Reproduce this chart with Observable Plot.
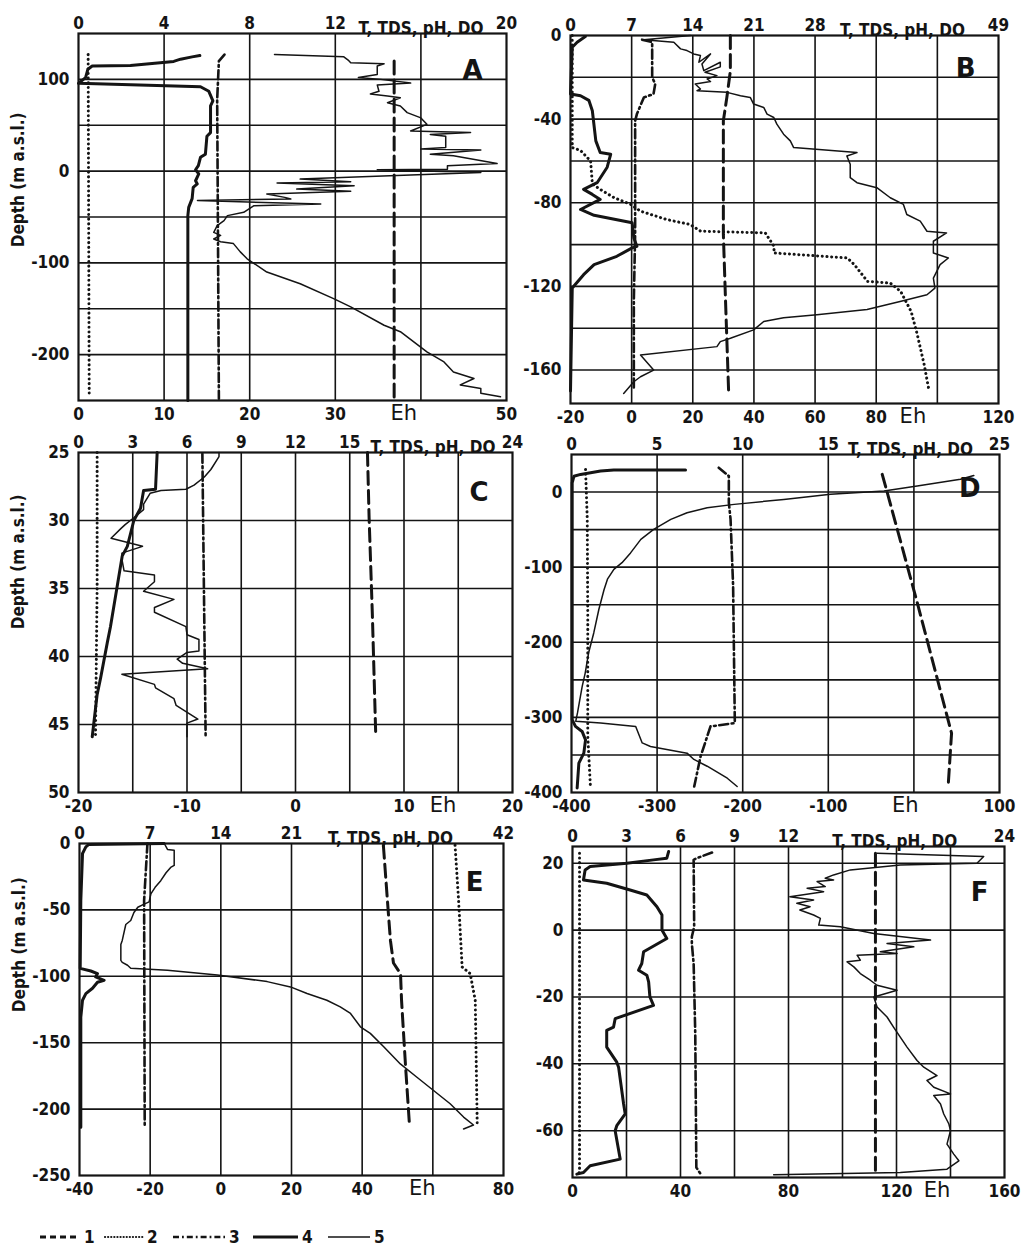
<!DOCTYPE html>
<html><head><meta charset="utf-8">
<script src="https://cdn.jsdelivr.net/npm/d3@7"></script>
<script src="https://cdn.jsdelivr.net/npm/@observablehq/plot@0.6"></script>
<style>
body{margin:0;background:#fff;}
#page{position:relative;width:1024px;height:1255px;overflow:hidden;background:#fff;}
.panel{position:absolute;}
.panel svg{position:absolute;left:0;top:0;}
#legend{position:absolute;left:0;top:1222px;}
</style></head><body><div id="page"></div>
<script>
// ---------- Panel A ----------
const A_topTicks=[0,4,8,12,20], A_topGrid=[4,8,12,16];
const A_ehTicks=[0,10,20,30,50];
const A_yTicks=[100,0,-100,-200], A_yGrid=[100,50,0,-50,-100,-150,-200];
const A_T=[[14.75,120],[14.75,-248]];
const A_TDS=[[0.45,127],[0.5,-244]];
const A_pH=[[6.82,127],[6.56,120],[6.48,78],[6.5,0],[6.56,-248]];
const A_DO=[[5.67,126],[5.31,124.5],[4.77,122],[4.45,119.6],[2.43,115],[0.64,114.5],[0.44,111],[0.33,102],[0,95.7],[5.7,92],[6.09,87],[6.28,76.5],[6.17,71],[6.17,42],[6.0,38],[5.93,18.5],[5.7,15],[5.6,6],[5.47,1.5],[5.62,-3],[5.47,-10.5],[5.55,-14],[5.36,-17.8],[5.31,-30],[5.15,-39.5],[5.11,-48.5],[5.11,-250]];
const A_Eh=[[22.9,127],[31.0,124.6],[31.5,121],[31.8,118],[35.7,117],[34.9,114.5],[34.9,105.4],[32.7,102],[35.3,100],[38.8,96],[34.9,94],[35.1,87],[34.1,84],[36.1,82],[37.6,80],[36.1,74.6],[37.6,71],[38.4,63.8],[40,58],[40.7,51],[38.8,43.8],[45.8,42],[41.1,40],[42.9,38],[42.9,25.7],[40,24],[47,23],[41.1,18.5],[43.8,16.7],[48.9,8.3],[43.1,5.8],[43.1,2],[34.9,1.4],[47,-1.4],[38.8,-4.3],[25.9,-8.7],[31.8,-11.6],[23.2,-13],[32.2,-16],[25.5,-19.6],[31.8,-22],[22.0,-25],[24.1,-28.6],[24.8,-30.4],[13.9,-32],[28.3,-35.9],[20.5,-37.7],[19.3,-44.9],[17.4,-48.5],[17,-54],[16.2,-59.4],[15.8,-66.7],[16.6,-70],[15.8,-74],[16.6,-77],[18.1,-79],[18.9,-88],[19.7,-95.6],[22,-110],[25.9,-122.8],[29.8,-139],[31.8,-148],[35.7,-168],[37.6,-175],[40.7,-197],[42.7,-208],[43.8,-219],[46.2,-226],[44.6,-233],[47,-237],[47,-242],[49.3,-246]];

// ---------- Panel B ----------
const B_topTicks=[0,7,14,21,28,49], B_topGrid=[7,14,21,28,35,42];
const B_ehTicks=[-20,0,20,40,60,80,120];
const B_yTicks=[0,-40,-80,-120,-160], B_yGrid=[-20,-40,-60,-80,-100,-120,-140,-160];
const B_T=[[18.3,0],[18.3,-17],[17.9,-29.6],[17.5,-40.8],[17.5,-95],[17.75,-127],[18.1,-170]];
const B_TDS=[[0.2,0],[0.2,-53.6],[1.15,-55],[2.3,-60],[2.5,-71],[3.4,-73.6],[5,-77.6],[6.9,-80.8],[8,-84],[11,-88],[13.7,-90.4],[14.9,-93.6],[22.3,-94.4],[23.3,-100.8],[23.3,-104],[31.7,-106.4],[32.5,-109.6],[34,-117.6],[36.6,-118.4],[37.8,-122.4],[39,-132],[39.7,-143],[40.5,-157.6],[41,-168.8]];
const B_pH=[[8.2,-2],[9.35,-3.2],[9.35,-20],[9.7,-23.2],[9.5,-28],[8.4,-29.6],[7.6,-37.6],[7.4,-40.8],[7.4,-95],[7.25,-127],[7.25,-170]];
const B_DO=[[1.7,-0.5],[0.76,-3.2],[0.2,-5.6],[0,-28],[1.15,-28.8],[2.1,-31],[2.5,-36],[2.9,-50.4],[3.4,-56],[4.6,-56.8],[4.2,-63],[3.05,-70.4],[1.5,-73.6],[2.5,-76],[3.4,-78.4],[1.15,-83.2],[2.7,-86],[7.06,-89.6],[7.25,-96.8],[7.6,-100.8],[7.06,-101.6],[5.3,-105.6],[2.7,-109.6],[1.5,-114.4],[0.2,-120.8],[0,-170]];
const B_Eh=[[19.2,0],[4,-2],[13.8,-3.2],[16,-6.4],[18.1,-7.2],[20.3,-8.8],[22.5,-9.6],[22,-12.8],[25.8,-8.8],[23,-13.6],[23.6,-16.8],[29,-12.8],[29,-15],[24,-17.6],[27.9,-19.2],[24.7,-20.8],[25.8,-22],[20.8,-23.2],[22.5,-25.6],[21.4,-26.4],[31.2,-27.2],[35.6,-28.8],[38.8,-29.6],[39.9,-32.8],[43.2,-34.4],[44.3,-37.6],[46.5,-39.2],[47.5,-42.4],[49.7,-47.2],[51.9,-50.4],[53,-53.6],[73.7,-56],[70.4,-57.6],[71.5,-61.6],[71.5,-68],[73.7,-70.4],[80.2,-72.8],[84.6,-77.6],[88.9,-80.8],[90,-85.6],[94.4,-88.8],[96.6,-93.6],[103,-94.4],[98.7,-98.4],[98.7,-104],[103.6,-106.4],[100.9,-109.6],[98.7,-116],[99.2,-120.8],[96.6,-124],[87.8,-127.2],[77,-131],[60.6,-133.6],[49.7,-135],[43.2,-136.8],[39.9,-140.8],[32.3,-144.8],[29,-146.4],[27.9,-148.8],[2.9,-152.8],[7.2,-160],[2.9,-163.2],[0.7,-165.6],[-2.6,-171.2]];

// ---------- Panel C ----------
const C_topTicks=[0,3,6,9,12,15,24], C_topGrid=[3,6,9,12,15,18,21];
const C_ehTicks=[-20,-10,0,10,20];
const C_yTicks=[25,30,35,40,45,50], C_yGrid=[30,35,40,45];
const C_T=[[15.98,25],[16.07,29.8],[16.25,36.9],[16.44,45.9]];
const C_TDS=[[1.03,25],[1.03,35],[0.94,45.9]];
const C_pH=[[6.85,25.1],[7.03,45.9]];
const C_DO=[[4.35,25],[4.26,27.7],[3.6,27.8],[3.43,29.1],[3.06,30],[2.7,31.9],[2.42,32.6],[1.77,37.8],[1.59,39],[1.22,41.6],[1.03,42.8],[0.76,45.9]];
const C_Eh=[[-7.05,25],[-7.05,25.3],[-7.8,26.25],[-8.4,26.8],[-9.35,27.4],[-10.1,27.7],[-12.4,27.8],[-13.4,28],[-14,28.8],[-14,29.2],[-14.9,29.8],[-15.7,30.3],[-16.1,30.6],[-17,31.3],[-14.1,31.9],[-16,32.4],[-16,32.85],[-15.8,33.7],[-13,34],[-13,34.5],[-14,35.2],[-11.2,35.8],[-13,36.4],[-13,36.75],[-10.1,37.8],[-10,38.4],[-8.9,38.75],[-8.9,39.6],[-10,39.7],[-10.9,40.2],[-10.4,40.5],[-8.1,40.9],[-16,41.3],[-13,42.05],[-12.9,42.3],[-11.2,43.1],[-11,43.6],[-9,44.6],[-10,44.9],[-10,45.9]];

// ---------- Panel D ----------
const D_topTicks=[0,5,10,15,25], D_topGrid=[5,10,15,20];
const D_ehTicks=[-400,-300,-200,-100,100];
const D_yTicks=[0,-100,-200,-300,-400], D_yGrid=[0,-50,-100,-150,-200,-250,-300,-350];
const D_T=[[18.15,23.5],[18.5,-5.3],[20.2,-147.6],[22.2,-321],[22.0,-392]];
const D_TDS=[[0.82,30],[0.92,-36],[0.95,-170],[0.95,-325],[1.1,-390]];
const D_pH=[[8.6,32.4],[9.19,21.3],[9.19,-14],[9.29,-36],[9.44,-125],[9.54,-307.6],[8.12,-312],[7.54,-352],[7.15,-394]];
const D_DO=[[6.66,29.3],[2.47,29.3],[1.7,28],[0.53,23.5],[0.14,21],[0.04,12.4],[0.04,-303],[0.23,-312],[0.62,-318.7],[0.82,-330],[0.72,-347.6],[0.43,-361],[0.33,-394]];
const D_Eh=[[70,22],[54.4,17],[3.8,8],[-35,1.3],[-97.4,-3],[-152,-9.8],[-210,-16.4],[-241.5,-20.9],[-265,-27.6],[-284,-36.4],[-304,-49.8],[-319,-63],[-331,-81],[-341,-94],[-350.5,-103],[-358,-116],[-362,-130],[-368,-156],[-374,-187.6],[-380,-214],[-384,-241],[-387.5,-258.7],[-391,-281],[-393,-294],[-395,-305],[-366,-307.6],[-325,-312],[-317.4,-334],[-307.7,-338.7],[-265,-347.6],[-257,-356],[-241.5,-365],[-218,-381],[-206.5,-392]];

// ---------- Panel E ----------
const E_topTicks=[0,7,14,21,42], E_topGrid=[7,14,21,28,35];
const E_ehTicks=[-40,-20,0,20,40,80];
const E_yTicks=[0,-50,-100,-150,-200,-250], E_yGrid=[-50,-100,-150,-200];
const E_T=[[30.1,-1.3],[30.5,-42.7],[30.8,-73],[31.1,-90],[31.8,-98],[31.9,-118],[32.3,-168],[32.7,-213.6]];
const E_TDS=[[37.2,-1.3],[37.55,-42.7],[37.9,-93],[38.7,-98],[39.2,-118],[39.4,-213.6]];
const E_pH=[[6.73,0],[6.4,-42.7],[6.46,-213.6]];
const E_DO=[[8.37,0],[0.9,-0.8],[0.63,-2.5],[0.3,-7.5],[0.13,-42.7],[0.07,-94],[1.12,-96],[1.78,-98],[1.6,-100.5],[2.44,-103],[1.78,-104.5],[1.29,-109],[0.63,-113],[0.3,-118],[0.13,-130.7],[0.13,-213.6]];
const E_Eh=[[-16,0],[-15.1,-4.5],[-13.2,-5],[-13.2,-16.5],[-14.2,-18],[-15.5,-22],[-17,-28],[-18.6,-33],[-19.8,-38],[-20.3,-44],[-22,-46],[-23.5,-48],[-24.6,-52],[-25.5,-58],[-26.9,-61],[-27.9,-73],[-28.3,-76],[-28.3,-88],[-27.9,-89.5],[-26.4,-91.7],[-25.5,-94],[-15.1,-95.5],[-1,-99],[13.1,-104],[19.7,-108],[24.4,-113],[30,-118],[33.8,-123],[36.7,-128],[39.5,-138],[42.3,-143],[46.1,-153],[50.8,-166],[55.5,-176],[60.2,-186],[64.9,-196],[68.7,-206],[71.5,-212],[68.7,-215]];

// ---------- Panel F ----------
const F_topTicks=[0,3,6,9,12,24], F_topGrid=[3,6,9,12,15,18,21];
const F_ehTicks=[0,40,80,120,160];
const F_yTicks=[20,0,-20,-40,-60], F_yGrid=[20,0,-20,-40,-60];
const F_T=[[16.83,23],[16.83,-73]];
const F_TDS=[[0.39,23],[0.39,-72],[0.33,-73.5]];
const F_pH=[[7.75,23.2],[6.9,21.5],[6.73,21],[6.76,1],[6.63,-2],[6.63,-4],[6.73,-10],[6.82,-31],[6.88,-71],[7.1,-72.8]];
const F_DO=[[5.34,23.5],[5.24,21.5],[4.5,21],[3.02,20],[0.98,19],[0.7,18],[0.61,15],[1.9,14],[3.2,12],[4.13,10.5],[4.69,7],[4.97,4.5],[4.97,0],[5.24,-2.5],[3.95,-6.5],[3.85,-10],[3.67,-12],[4.13,-13.5],[4.23,-15.5],[4.3,-20],[4.5,-22.5],[2.37,-26.5],[2.28,-29],[1.9,-30],[1.9,-35],[2.46,-39.5],[2.56,-41],[2.84,-52],[2.93,-55],[2.46,-58.5],[2.37,-60],[2.65,-68.5],[0.98,-70.5],[0.61,-72.5],[0.24,-73]];
const F_Eh=[[112.8,23],[152.3,22],[149.8,20],[121.4,19.5],[102.9,18],[96.7,16.5],[93.6,15.5],[96.7,15],[90.6,14.5],[93.6,13],[86.9,12.5],[93,11.5],[80.5,10],[89.3,9],[83.1,8],[88,7],[84.2,6],[89.3,4.5],[91.8,3.5],[91.2,1.5],[99.2,1],[111.6,-1],[132.6,-3],[116.5,-4],[126.4,-5],[114,-6.5],[120.2,-7],[105.4,-7.5],[106.6,-9],[101.7,-9.5],[104.2,-11],[106.6,-13],[110.3,-15],[112.8,-16.5],[120.2,-18],[111.6,-20],[112.8,-23],[116.5,-26],[118.9,-29],[121.4,-32],[123.9,-35],[127.6,-39],[130.1,-41],[135,-43.5],[131.3,-45],[133.8,-47],[140,-49],[133.8,-49.5],[136.3,-52],[137.5,-55],[139.4,-58],[140,-60],[138.7,-64],[141.2,-67],[143.1,-69],[138.7,-71.5],[121.4,-72.5],[74.5,-73.2]];

const legendLabels=["1","2","3","4","5"];
const topTitle="T, TDS, pH, DO";
const depthTitle="Depth (m a.s.l.)";

// ---------- layout ----------
const panels=[
 {id:"A",frame:[78,33,506,400],top:[0,20],topTicks:A_topTicks,topGrid:A_topGrid,titleAt:16,eh:[0,50],ehTicks:A_ehTicks,ehAt:38,y:[-250,150],rev:false,yTicks:A_yTicks,yGrid:A_yGrid,left:true,ylabAt:-83,letter:[-24,27],s:{T:A_T,TDS:A_TDS,pH:A_pH,DO:A_DO,Eh:A_Eh}},
 {id:"B",frame:[570,35,998,403],top:[0,49],topTicks:B_topTicks,topGrid:B_topGrid,titleAt:38,eh:[-20,120],ehTicks:B_ehTicks,ehAt:92,y:[-176,0],rev:false,yTicks:B_yTicks,yGrid:B_yGrid,left:false,letter:[-23,23],s:{T:B_T,TDS:B_TDS,pH:B_pH,DO:B_DO,Eh:B_Eh}},
 {id:"C",frame:[78,452,512,792],top:[0,24],topTicks:C_topTicks,topGrid:C_topGrid,titleAt:19.6,eh:[-20,20],ehTicks:C_ehTicks,ehAt:13.6,y:[25,50],rev:true,yTicks:C_yTicks,yGrid:C_yGrid,left:true,ylabAt:38,letter:[-24,30],s:{T:C_T,TDS:C_TDS,pH:C_pH,DO:C_DO,Eh:C_Eh}},
 {id:"D",frame:[571,454,999,792],top:[0,25],topTicks:D_topTicks,topGrid:D_topGrid,titleAt:19.8,eh:[-400,100],ehTicks:D_ehTicks,ehAt:-10,y:[-400,50],rev:false,yTicks:D_yTicks,yGrid:D_yGrid,left:false,letter:[-19,24],s:{T:D_T,TDS:D_TDS,pH:D_pH,DO:D_DO,Eh:D_Eh}},
 {id:"E",frame:[79,843,503,1175],top:[0,42],topTicks:E_topTicks,topGrid:E_topGrid,titleAt:30.8,eh:[-40,80],ehTicks:E_ehTicks,ehAt:57,y:[-250,0],rev:false,yTicks:E_yTicks,yGrid:E_yGrid,left:true,ylabAt:-127,letter:[-20,29],s:{T:E_T,TDS:E_TDS,pH:E_pH,DO:E_DO,Eh:E_Eh}},
 {id:"F",frame:[572,846,1004,1177],top:[0,24],topTicks:F_topTicks,topGrid:F_topGrid,titleAt:17.9,eh:[0,160],ehTicks:F_ehTicks,ehAt:135,y:[-74,25],rev:false,yTicks:F_yTicks,yGrid:F_yGrid,left:false,letter:[-16,36],s:{T:F_T,TDS:F_TDS,pH:F_pH,DO:F_DO,Eh:F_Eh}}
];

const INK="#141414";
const styles={
 T:{strokeWidth:3,strokeDasharray:"13,6"},
 TDS:{strokeWidth:3,strokeDasharray:"0.1,4.6",strokeLinecap:"round"},
 pH:{strokeWidth:2.6,strokeDasharray:"9,3.5,1.8,3.5"},
 DO:{strokeWidth:3},
 Eh:{strokeWidth:1.5}
};
const FONT='"Liberation Sans Narrow","DejaVu Sans Condensed","Liberation Sans",sans-serif';
const FONT2='"DejaVu Sans","Liberation Sans",sans-serif';
const TS=17;
const ML=72,MT=40,MR=26,MB=42;
const fmt=d=>String(d);
const page=document.getElementById("page");

function line(data,key){
  return Plot.line(data,{x:d=>d[0],y:d=>d[1],stroke:INK,strokeLinejoin:"round",...styles[key]});
}

for(const p of panels){
  const [l,t,r,b]=p.frame;
  const w=r-l+ML+MR, h=b-t+MT+MB;
  const div=document.createElement("div");
  div.className="panel";
  div.style.left=(l-ML)+"px"; div.style.top=(t-MT)+"px";
  div.style.width=w+"px"; div.style.height=h+"px";
  const common={width:w,height:h,marginLeft:ML,marginRight:MR,marginTop:MT,marginBottom:MB};
  const gridStyle={stroke:INK,strokeOpacity:1,strokeWidth:1.6};
  const st={fontFamily:FONT,fontSize:TS+"px",fontWeight:"bold",background:"transparent",overflow:"visible"};
  const marks1=[
    Plot.gridX(p.topGrid,gridStyle),
    Plot.gridY(p.yGrid,gridStyle),
    Plot.frame({stroke:INK,strokeWidth:2.2}),
    Plot.axisX(p.topTicks,{anchor:"top",tickSize:0,tickPadding:5,label:null,tickFormat:fmt,fontSize:TS,fill:INK}),
    Plot.axisY(p.yTicks,{anchor:"left",tickSize:0,tickPadding:9,label:null,tickFormat:fmt,fontSize:TS,fill:INK}),
    Plot.text([topTitle],{x:()=>p.titleAt,frameAnchor:"top",dy:-12,text:d=>d,fontSize:TS,fill:INK}),
    Plot.text([p.id],{frameAnchor:"top-right",dx:p.letter[0],dy:p.letter[1],text:d=>d,fontSize:26,fontWeight:"bold",fontFamily:FONT2,fill:INK}),
    line(p.s.TDS,"TDS"),line(p.s.pH,"pH"),line(p.s.T,"T"),line(p.s.DO,"DO")
  ];
  if(p.left) marks1.push(Plot.text([depthTitle],{y:()=>p.ylabAt,frameAnchor:"left",dx:-60,rotate:-90,text:d=>d,fontSize:TS,fill:INK}));
  const svg1=Plot.plot({...common,style:st,
    x:{domain:p.top},y:{domain:p.y,reverse:p.rev},marks:marks1});
  const svg2=Plot.plot({...common,style:st,
    x:{domain:p.eh},y:{domain:p.y,reverse:p.rev,axis:null},
    marks:[
      Plot.axisX(p.ehTicks,{anchor:"bottom",tickSize:0,tickPadding:7,label:null,tickFormat:fmt,fontSize:TS,fill:INK}),
      Plot.text(["Eh"],{x:()=>p.ehAt,frameAnchor:"bottom",dy:19,text:d=>d,fontSize:21,fontWeight:"normal",fontFamily:FONT2,fill:INK}),
      line(p.s.Eh,"Eh")
    ]});
  div.appendChild(svg1); div.appendChild(svg2);
  page.appendChild(div);
}

// ---------- legend ----------
const legItems=[
 {x1:40,x2:80,st:'stroke-width="2.8" stroke-dasharray="6,4"'},
 {x1:105,x2:143,st:'stroke-width="2.2" stroke-dasharray="0.1,3" stroke-linecap="round"'},
 {x1:173,x2:225,st:'stroke-width="2.6" stroke-dasharray="6,3,1.8,3"'},
 {x1:253,x2:298,st:'stroke-width="3"'},
 {x1:328,x2:370,st:'stroke-width="1.5"'}
];
let lg='<svg id="legend" width="420" height="30" style="font-family:'+FONT.replace(/"/g,"'")+';font-size:17px;font-weight:bold">';
legItems.forEach((it,i)=>{
  lg+=`<line x1="${it.x1}" x2="${it.x2}" y1="15" y2="15" stroke="${INK}" ${it.st}/>`;
  lg+=`<text x="${it.x2+4}" y="21" fill="${INK}">${legendLabels[i]}</text>`;
});
lg+='</svg>';
page.insertAdjacentHTML("beforeend",lg);
</script>
</body></html>
